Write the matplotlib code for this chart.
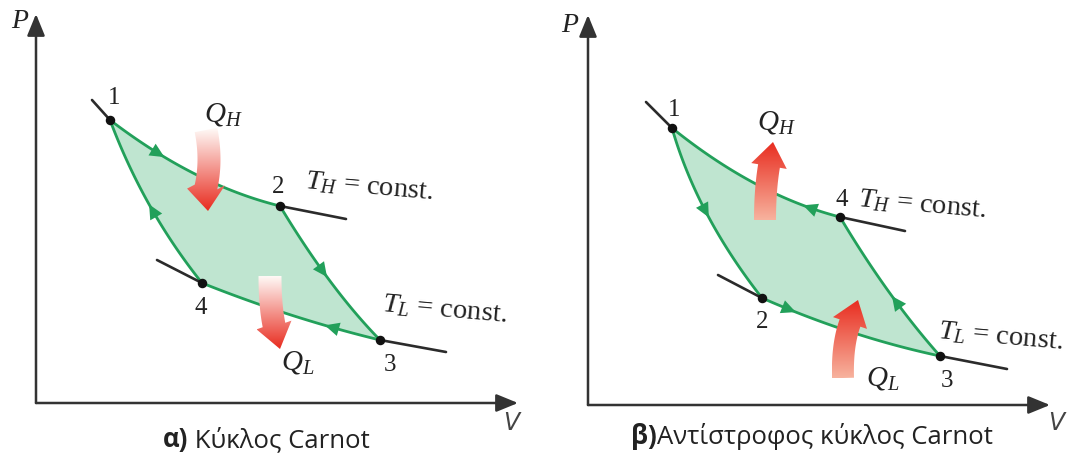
import numpy as np
import matplotlib.pyplot as plt
from matplotlib.patches import Polygon

plt.rcParams['mathtext.fontset'] = 'custom'
plt.rcParams['mathtext.rm'] = 'Liberation Serif'
plt.rcParams['mathtext.it'] = 'Liberation Serif:italic'

GREEN = '#22a05a'
FILL = '#bfe5d0'

# state points of the two cycles (pixel units, y downwards)
left_pts = [(110, 120), (280, 206), (380, 340), (202, 283)]
left_mids = [(195, 174), (330, 281), (291, 315), (150, 206)]   # mid of 1-2, 2-3, 3-4, 4-1
left_arrow_t = [0.30, 0.45, 0.29, 0.49]
left_stubs = [[(92, 100), (110, 120)], [(280, 206), (346, 219)],
              [(157, 260), (202, 283)], [(380, 340), (446, 352)]]

right_pts = [(672, 128), (762, 298), (940, 356), (840, 217)]
right_mids = [(707, 214), (851, 332), (889, 292), (756, 184)]
right_arrow_t = [0.50, 0.17, 0.45, 0.20]
right_stubs = [[(646, 102), (672, 128)], [(840, 217), (905, 231)],
               [(718, 275), (762, 298)], [(940, 356), (1007, 369)]]

# heat arrows: start, control, end (head base), tip
left_qh = [(206, 130), (212, 160), (206, 187), (208, 211)]
left_ql = [(270, 276), (270, 305), (274, 325), (280, 349)]
right_qh = [(765, 220), (765, 190), (769, 166), (773, 142)]
right_ql = [(843, 378), (842, 345), (850, 323), (858, 300)]


def bez(p0, pm, p2, t):
    p0, pm, p2 = map(np.asarray, (p0, pm, p2))
    c = 2 * pm - 0.5 * (p0 + p2)
    t = np.atleast_1d(t)[:, None]
    return (1 - t) ** 2 * p0 + 2 * t * (1 - t) * c + t ** 2 * p2


def heat_arrow(ax, spec, width, head_width, c_top, c_bot):
    s, c, e, tip = map(np.asarray, spec)
    t = np.linspace(0, 1, 30)[:, None]
    pts = (1 - t) ** 2 * s + 2 * t * (1 - t) * c + t ** 2 * e
    d = np.gradient(pts, axis=0)
    n = np.column_stack([-d[:, 1], d[:, 0]]) / np.linalg.norm(d, axis=1)[:, None]
    hd = tip - e
    hn = np.array([-hd[1], hd[0]]) / np.linalg.norm(hd)
    poly = np.vstack([pts + n * width / 2, e + hn * head_width / 2, tip,
                      e - hn * head_width / 2, (pts - n * width / 2)[::-1]])
    patch = Polygon(poly, closed=True, fc='none', ec='none')
    ax.add_patch(patch)
    x0, x1 = poly[:, 0].min(), poly[:, 0].max()
    y0, y1 = poly[:, 1].min(), poly[:, 1].max()
    g = np.linspace(0, 1, 256)[:, None, None]
    rgba = (1 - g) * np.array(c_top) + g * np.array(c_bot)
    im = ax.imshow(rgba, extent=(x0, x1, y1, y0), origin='upper',
                   aspect='auto', zorder=4, interpolation='bilinear')
    im.set_clip_path(patch)


def draw_cycle(ax, pts, mids, arrow_t, stubs):
    outline = []
    for i in range(4):
        p0, p2 = pts[i], pts[(i + 1) % 4]
        seg = bez(p0, mids[i], p2, np.linspace(0, 1, 60))
        outline.append(seg)
        ax.plot(seg[:, 0], seg[:, 1], color=GREEN, lw=2.0, zorder=2,
                solid_capstyle='round')
        a = bez(p0, mids[i], p2, [arrow_t[i] - 0.02, arrow_t[i] + 0.02])
        ax.annotate('', xy=a[1], xytext=a[0],
                    arrowprops=dict(arrowstyle='-|>,head_length=0.8,head_width=0.38',
                                    color=GREEN, lw=0, shrinkA=0, shrinkB=0,
                                    mutation_scale=13), zorder=3)
    ax.add_patch(Polygon(np.vstack(outline), closed=True, fc=FILL, ec='none', zorder=1))
    for st in stubs:
        st = np.array(st)
        ax.plot(st[:, 0], st[:, 1], color='#2b2b2b', lw=1.9, zorder=2,
                solid_capstyle='round')
    p = np.array(pts)
    ax.scatter(p[:, 0], p[:, 1], s=34, color='#111111', zorder=5)


def draw_axes(ax, origin, ytip, xtip):
    style = dict(arrowstyle='-|>,head_length=1.1,head_width=0.45', color='#333333',
                 lw=1.8, shrinkA=0, shrinkB=0, mutation_scale=12)
    ax.annotate('', xy=ytip, xytext=origin, arrowprops=style)
    ax.annotate('', xy=xtip, xytext=origin, arrowprops=style)


fig = plt.figure(figsize=(10.68, 4.58), dpi=100)
ax = fig.add_axes([0, 0, 1, 1])

draw_axes(ax, (36, 403), (36, 14), (518, 403))
draw_axes(ax, (588, 405), (588, 15), (1050, 405))

draw_cycle(ax, left_pts, left_mids, left_arrow_t, left_stubs)
draw_cycle(ax, right_pts, right_mids, right_arrow_t, right_stubs)

white = (1, 0.99, 0.98, 1)
red = (0.91, 0.17, 0.12, 1)
salmon = (0.97, 0.70, 0.62, 1)
heat_arrow(ax, left_qh, 23, 38, white, red)
heat_arrow(ax, left_ql, 23, 36, white, red)
heat_arrow(ax, right_qh, 22, 36, red, salmon)
heat_arrow(ax, right_ql, 22, 36, red, salmon)

serif = dict(family='Liberation Serif', color='#222222', zorder=6)
num_labels = [('1', 114, 98), ('2', 278, 187), ('3', 390, 365), ('4', 201, 308),
              ('1', 674, 110), ('2', 762, 322), ('3', 947, 381), ('4', 842, 200)]
for s, x, y in num_labels:
    ax.text(x, y, s, fontsize=18, ha='center', va='center', **serif)

for x, y, sub in [(305, 188, 'H'), (382, 311, 'L'), (858, 206, 'H'), (938, 338, 'L')]:
    ax.text(x, y, r'$T_%s$ = const.' % sub, fontsize=20.5, ha='left',
            va='baseline', rotation=-5, rotation_mode='anchor', **serif)

for x, y, sub in [(204, 121, 'H'), (281, 370, 'L'), (757, 130, 'H'), (866, 385, 'L')]:
    ax.text(x, y, r'$Q_%s$' % sub, fontsize=21, ha='left', va='baseline', **serif)

ax.text(20, 22, 'P', fontsize=20, style='italic', ha='center', va='center', **serif)
ax.text(570, 25, 'P', fontsize=20, style='italic', ha='center', va='center', **serif)
ax.text(511, 423, 'V', fontsize=17, family='DejaVu Sans', style='italic',
        fontweight='light', color='#444444', ha='center', va='center')
ax.text(1056, 423, 'V', fontsize=17, family='DejaVu Sans', style='italic',
        fontweight='light', color='#444444', ha='center', va='center')

cap = dict(family='Open Sans', fontsize=18.5, color='#222222')
for x, y, bold, rest in [(163, 447, 'α)', ' Κύκλος Carnot'),
                         (631, 444, 'β)', 'Αντίστροφος κύκλος Carnot')]:
    t1 = ax.text(x, y, bold, fontweight='bold', ha='left', va='baseline', **cap)
    ax.annotate(rest, xy=(1, 0), xycoords=t1, ha='left', va='bottom', **cap)

ax.set_xlim(0, 1068)
ax.set_ylim(458, 0)
ax.axis('off')
fig.savefig('out.png', dpi=100)
